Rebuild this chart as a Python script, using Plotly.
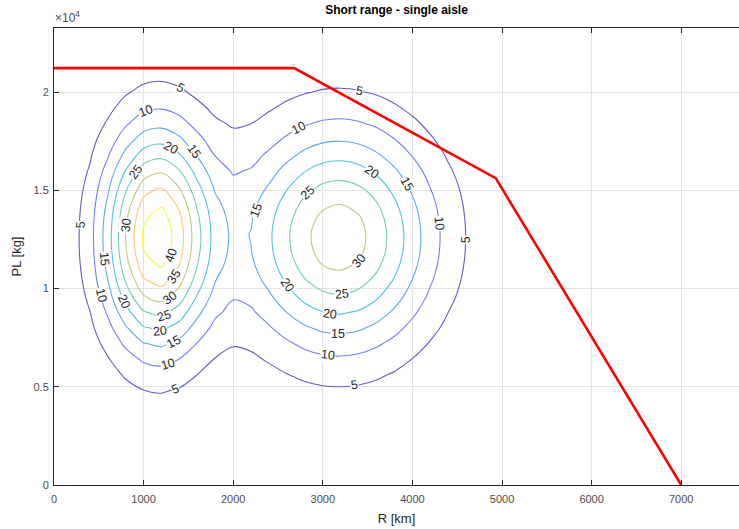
import math
import numpy as np
import plotly.graph_objects as go

# ---- data ----
# boundary of payload-range (red line)
boundary_R = [0, 2680, 4930, 7000]
boundary_PL = [21220, 21220, 15620, 0]

# two bumps of the density field
bump_center_R = [1150, 3175]
bump_center_PL = [12600, 12600]
bump_peak = [43, 33]
bump_sigma_R = [410, 730]
bump_sigma_PL = [3800, 3900]

contour_levels = [5, 10, 15, 20, 25, 30, 35, 40]

# contour label placement: which bump, which level, direction (deg) from bump centre
label_bump = [0, 0, 0, 0, 0, 0, 0, 0, 0, 0, 0, 0, 0, 0, 0, 0, 0, 0,
              1, 1, 1, 1, 1, 1, 1, 1, 1, 1, 1, 1, 1, 1, 1]
label_level = [5, 10, 20, 15, 25, 30, 5, 15, 10, 20, 40, 35, 30, 25, 20, 15, 10, 5,
               5, 10, 20, 15, 25, 15, 10, 5, 30, 20, 25, 20, 15, 10, 5]
label_angle = [81, 95, 81, 67, 108, 158, 171, 202, 226, 243, 309, 293, 282, 275, 272, 279, 275, 277,
               82, 110, 63, 38, 125, 162, 8, 359, 311, 223, 274, 264, 270, 265, 276]

x_ticks = [0, 1000, 2000, 3000, 4000, 5000, 6000, 7000]
y_ticks = [0, 5000, 10000, 15000, 20000]
y_tick_text = ["0", "0.5", "1", "1.5", "2"]

X_RANGE = [0, 7645]
Y_RANGE = [0, 23260]
ML, MR, MT, MB = 54, 0, 28, 44
W, H = 739, 529


def zfun(x, y):
    z = 0.0
    for cx, cy, a, sx, sy in zip(bump_center_R, bump_center_PL, bump_peak, bump_sigma_R, bump_sigma_PL):
        z = z + a * np.exp(-((x - cx) ** 2 / (2 * sx ** 2) + (y - cy) ** 2 / (2 * sy ** 2)))
    return z


# grid
R = np.arange(0, 7001, 200)
PL = np.arange(0, 23001, 800)
RR, PP = np.meshgrid(R, PL)
Z = zfun(RR, PP)

# label positions computed on the field
px_x = (W - ML - MR) / (X_RANGE[1] - X_RANGE[0])
px_y = (H - MT - MB) / (Y_RANGE[1] - Y_RANGE[0])
label_annotations = []
for b, lev, ang in zip(label_bump, label_level, label_angle):
    cx, cy = bump_center_R[b], bump_center_PL[b]
    ux = math.cos(math.radians(ang)) / px_x
    uy = math.sin(math.radians(ang)) / px_y
    lo, hi = 0.0, None
    for t in range(1, 400):
        if zfun(cx + ux * t, cy + uy * t) < lev:
            lo, hi = t - 1.0, float(t)
            break
    if hi is None:
        continue
    for _ in range(30):
        mid = 0.5 * (lo + hi)
        if zfun(cx + ux * mid, cy + uy * mid) >= lev:
            lo = mid
        else:
            hi = mid
    xs, ys = cx + ux * lo, cy + uy * lo
    hx, hy = 1.0 / px_x, 1.0 / px_y
    gx = (zfun(xs + hx, ys) - zfun(xs - hx, ys)) / 2
    gy = (zfun(xs, ys + hy) - zfun(xs, ys - hy)) / 2
    theta = math.degrees(math.atan2(gx, -gy))
    while theta > 90:
        theta -= 180
    while theta <= -90:
        theta += 180
    label_annotations.append(dict(
        x=xs, y=ys, xref="x", yref="y", text=str(lev), showarrow=False,
        textangle=-theta, xanchor="center", yanchor="middle",
        bgcolor="white", borderpad=0,
        font=dict(family="Liberation Sans, Arial", size=12.5, color="#262626")))

parula = [
    [0.0, "rgb(105,88,190)"],
    [1/7, "rgb(115,125,246)"],
    [2/7, "rgb(92,168,243)"],
    [3/7, "rgb(78,196,225)"],
    [4/7, "rgb(106,208,180)"],
    [5/7, "rgb(185,205,120)"],
    [6/7, "rgb(251,203,110)"],
    [1.0, "rgb(248,248,60)"],
]

fig = go.Figure()
fig.add_trace(go.Contour(
    x=R, y=PL, z=Z,
    zmin=contour_levels[0], zmax=contour_levels[-1],
    autocontour=False,
    contours=dict(start=contour_levels[0], end=contour_levels[-1], size=5,
                  coloring="lines", showlabels=False),
    colorscale=parula, showscale=False, line=dict(width=1.1),
    hoverinfo="skip",
))
fig.add_trace(go.Scatter(
    x=boundary_R, y=boundary_PL, mode="lines",
    line=dict(color="#ff0000", width=2.6), showlegend=False, hoverinfo="skip",
))

axis_font = dict(family="Liberation Sans, Arial", size=11, color="#4d4d4d")
fig.update_layout(
    width=W, height=H,
    margin=dict(l=ML, r=MR, t=MT, b=MB),
    paper_bgcolor="white", plot_bgcolor="white",
    showlegend=False,
    title=dict(text="<b>Short range - single aisle</b>", x=0.5, xref="paper",
               y=1 - 10 / H, yref="container", yanchor="middle",
               font=dict(family="Liberation Sans, Arial", size=12, color="#000000")),
    xaxis=dict(range=X_RANGE, tickvals=x_ticks, ticks="inside", ticklen=5, automargin=False,
               tickcolor="#262626", showline=True, linecolor="#262626", linewidth=1,
               mirror="ticks", showgrid=True, gridcolor="#e3e3e3", gridwidth=1,
               zeroline=False, tickfont=axis_font, ticklabelstandoff=4,
               title=dict(text="R [km]", font=dict(family="Liberation Sans, Arial", size=13, color="#262626"), standoff=9)),
    yaxis=dict(range=Y_RANGE, tickvals=y_ticks, ticktext=y_tick_text, ticks="inside", ticklen=5, automargin=False,
               tickcolor="#262626", showline=True, linecolor="#262626", linewidth=1,
               showgrid=True, gridcolor="#e3e3e3", gridwidth=1, ticklabelstandoff=2,
               zeroline=False, tickfont=axis_font,
               title=dict(text="PL [kg]", font=dict(family="Liberation Sans, Arial", size=13, color="#262626"), standoff=8)),
    annotations=label_annotations + [
        dict(text="×10<sup>4</sup>", xref="paper", yref="paper", x=0, y=1,
             xanchor="left", yanchor="bottom", showarrow=False, xshift=-1, yshift=1,
             font=dict(family="Liberation Sans, Arial", size=12, color="#4d4d4d"))],
)

fig.write_html("out.html", config={"displayModeBar": False},
               post_script="document.body.style.margin='0';")
